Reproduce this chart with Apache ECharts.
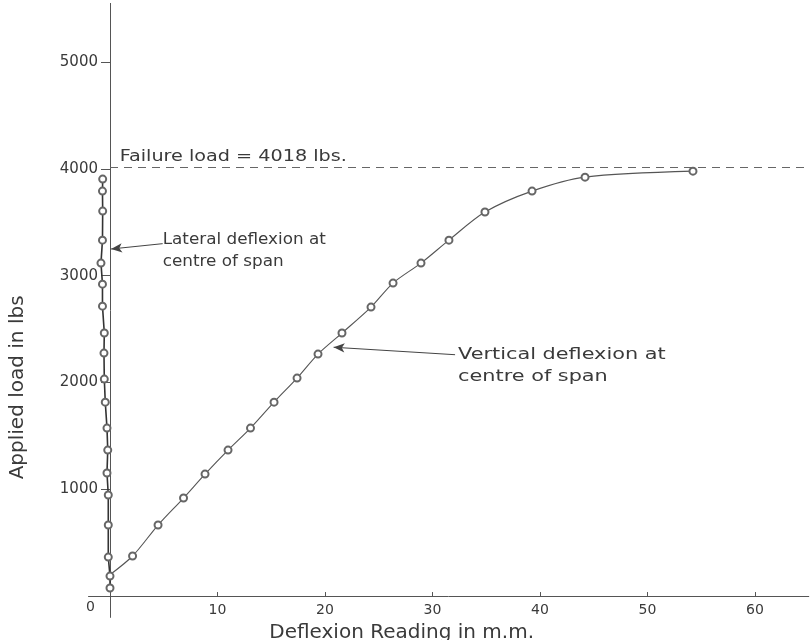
<!DOCTYPE html>
<html>
<head>
<meta charset="utf-8">
<script src="https://cdn.jsdelivr.net/npm/echarts@6/dist/echarts.min.js"></script>
<style>html,body{margin:0;padding:0;background:#fff}#c{width:811px;height:640px}</style>
</head>
<body>
<div id="c"></div>
<script>
// ---- data ----
const lateralDeflexion = [0, 0, -0.16, -0.16, -0.16, -0.28, -0.21, -0.28, -0.44, -0.53, -0.56, -0.53, -0.7, -0.7, -0.84, -0.7, -0.68, -0.7, -0.68];
const lateralLoad      = [75, 187, 365, 665, 946, 1152, 1367, 1573, 1816, 2032, 2275, 2463, 2715, 2921, 3118, 3333, 3605, 3792, 3905];
const verticalDeflexion = [0, 2.1, 4.47, 6.84, 8.84, 10.98, 13.07, 15.26, 17.4, 19.35, 21.58, 24.28, 26.33, 28.93, 31.53, 34.88, 39.26, 44.19, 54.23];
const verticalLoad      = [200, 375, 665, 918, 1142, 1367, 1573, 1816, 2041, 2266, 2463, 2706, 2931, 3118, 3333, 3596, 3792, 3923, 3979];
const failureLoad = 4018;
const xTicks = [10, 20, 30, 40, 50, 60];
const yTicks = [1000, 2000, 3000, 4000, 5000];
const yLabelValues = [0, 1000, 2000, 3000, 4000, 5000];
const failureText = 'Failure load = 4018 lbs.';
const lateralText = ['Lateral deflexion at', 'centre of span'];
const verticalText = ['Vertical deflexion at', 'centre of span'];
const xTitle = 'Deflexion Reading in m.m.';
const yTitle = 'Applied load in lbs';
// annotation anchors (data coords): [text start, arrow tip]
const lateralArrow = [[4.9, 3300], [0.1, 3250]];
const verticalArrow = [[32.1, 2260], [20.8, 2330]];

const FONT = 'DejaVu Sans';
const INK = '#3a3a3a';
const chart = echarts.init(document.getElementById('c'), null, {renderer: 'canvas'});

function pairs(xs, ys) { return xs.map((x, i) => [x, ys[i]]); }
const vData = pairs(verticalDeflexion, verticalLoad).map((p, i) => i === 0 ? {value: p, symbol: 'none'} : p);

chart.setOption({
  backgroundColor: '#fff',
  animation: false,
  grid: {left: 88.5, right: 2.25, top: 3.4, bottom: 22.6, containLabel: false, outerBoundsMode: 'none'},
  xAxis: {
    type: 'value', min: -2, max: 65,
    splitLine: {show: false},
    axisLine: {onZero: true, lineStyle: {color: '#555', width: 1}},
    axisTick: {show: true, inside: true, length: 4, customValues: xTicks, lineStyle: {color: '#555'}},
    axisLabel: {customValues: xTicks, margin: -14, fontFamily: FONT, fontSize: 14, color: INK},
    name: xTitle, nameLocation: 'middle', nameGap: 5,
    nameTextStyle: {fontFamily: FONT, fontSize: 20, color: INK, padding: [0, 94, 0, 0]}
  },
  yAxis: {
    type: 'value', min: -200, max: 5550,
    splitLine: {show: false},
    axisLine: {onZero: true, lineStyle: {color: '#555', width: 1}},
    axisTick: {show: true, length: 9, customValues: yTicks, lineStyle: {color: '#555'}},
    axisLabel: {
      customValues: yLabelValues, margin: -9.5, fontFamily: FONT, fontSize: 15, color: INK,
      formatter: v => v === 0 ? '{z|0}' : String(v),
      rich: {z: {fontFamily: FONT, fontSize: 14, color: INK, padding: [22, 3, 0, 0]}}
    },
    name: yTitle, nameLocation: 'middle', nameGap: 61, nameRotate: 90,
    nameTextStyle: {fontFamily: FONT, fontSize: 20, color: INK, padding: [0, 154, 0, 0]}
  },
  series: [
    {
      name: 'Lateral deflexion', type: 'line',
      data: pairs(lateralDeflexion, lateralLoad),
      symbol: 'emptyCircle', symbolSize: 7,
      lineStyle: {color: '#333', width: 1.6},
      itemStyle: {color: '#666', borderWidth: 0.9},
      markLine: {
        silent: true, symbol: ['none', 'arrow'], symbolSize: [7, 11],
        label: {show: false},
        lineStyle: {color: '#444', width: 1, type: 'solid'},
        data: [
          [{coord: lateralArrow[0]}, {coord: lateralArrow[1]}],
          [{coord: [0, failureLoad], symbol: 'none'}, {coord: [65, failureLoad], symbol: 'none', lineStyle: {type: [8, 6], color: '#666', width: 1}}]
        ]
      }
    },
    {
      name: 'Vertical deflexion', type: 'line',
      data: vData, smooth: 0.3,
      symbol: 'emptyCircle', symbolSize: 7,
      lineStyle: {color: '#555', width: 1.1},
      itemStyle: {color: '#666', borderWidth: 0.9},
      markLine: {
        silent: true, symbol: ['none', 'arrow'], symbolSize: [7, 11],
        label: {show: false},
        lineStyle: {color: '#444', width: 1, type: 'solid'},
        data: [[{coord: verticalArrow[0]}, {coord: verticalArrow[1]}]]
      }
    }
  ]
});

function px(p) { return chart.convertToPixel({gridIndex: 0}, p); }
const fp = px([0.9, failureLoad]);
const lp = px(lateralArrow[0]);
const vp = px(verticalArrow[0]);
const txt = (x, y, s, size, sx) => ({type: 'text', x: x, y: y, scaleX: sx, silent: true,
  style: {text: s, fontFamily: FONT, fontSize: size, fill: INK, align: 'left', verticalAlign: 'middle', lineHeight: 22}});
chart.setOption({
  graphic: [
    txt(fp[0], fp[1] - 10, failureText, 15, 1.28),
    txt(lp[0], lp[1] + 7, lateralText.join('\n'), 15, 1.12),
    txt(vp[0] + 3, vp[1] + 11, verticalText.join('\n'), 16, 1.3)
  ]
});
</script>
</body>
</html>
